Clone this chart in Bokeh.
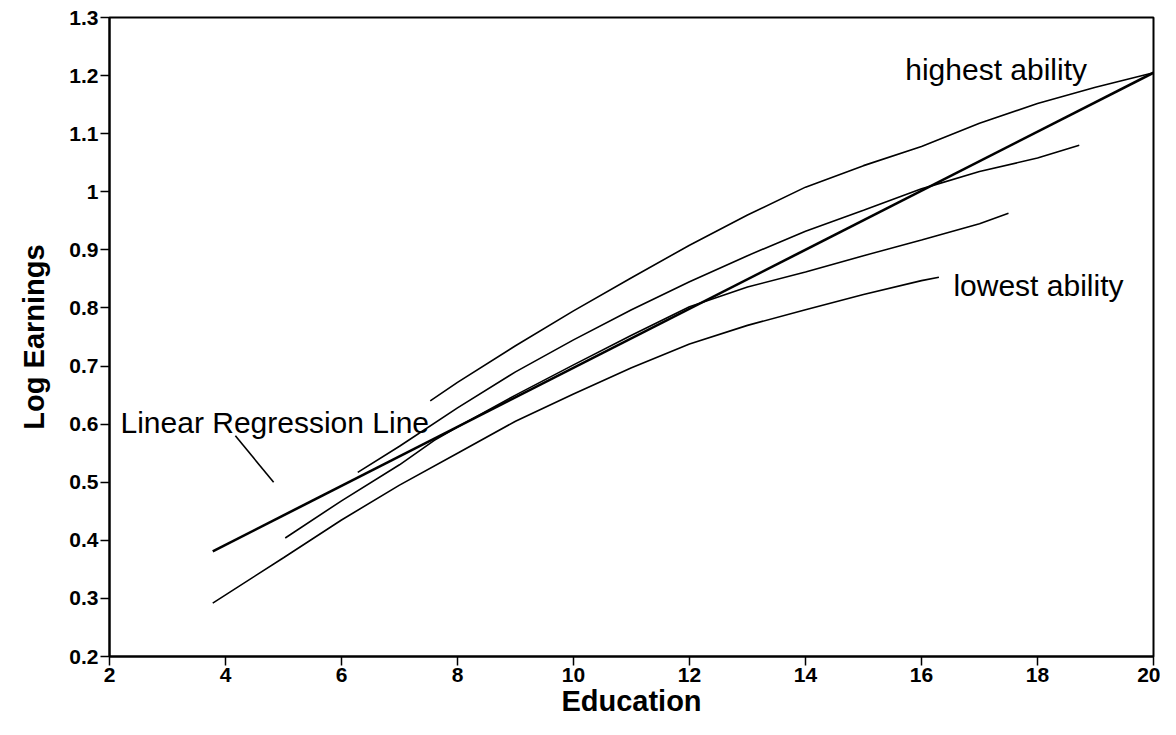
from bokeh.plotting import figure
from bokeh.models import Range1d, FixedTicker, Label
from bokeh.embed import file_html
from bokeh.resources import INLINE

# ---- data ----
educ_lowest = [3.78, 5, 6, 7, 8, 9, 10, 11, 12, 13, 14, 15, 16, 16.3]
earn_lowest = [0.292, 0.37, 0.435, 0.495, 0.55, 0.605, 0.652, 0.697, 0.738, 0.77, 0.797, 0.823, 0.847, 0.853]

educ_low2 = [5.03, 6, 7, 7.6, 8, 9, 10, 11, 12, 13, 14, 15, 16, 17, 17.5]
earn_low2 = [0.404, 0.468, 0.53, 0.572, 0.595, 0.65, 0.702, 0.753, 0.802, 0.836, 0.862, 0.89, 0.917, 0.945, 0.963]

educ_high2 = [6.28, 7, 8, 9, 10, 11, 12, 13, 14, 15, 16, 17, 18, 18.72]
earn_high2 = [0.517, 0.562, 0.628, 0.69, 0.745, 0.797, 0.845, 0.89, 0.932, 0.968, 1.005, 1.035, 1.058, 1.08]

educ_highest = [7.53, 8, 9, 10, 11, 12, 13, 14, 15, 16, 17, 18, 19, 20]
earn_highest = [0.64, 0.672, 0.735, 0.795, 0.852, 0.908, 0.96, 1.008, 1.045, 1.078, 1.118, 1.152, 1.18, 1.205]

educ_reg = [3.78, 20]
earn_reg = [0.381, 1.205]

x_ticks = [2, 4, 6, 8, 10, 12, 14, 16, 18, 20]
y_ticks = [0.2, 0.3, 0.4, 0.5, 0.6, 0.7, 0.8, 0.9, 1, 1.1, 1.2, 1.3]
y_tick_labels = ["0.2", "0.3", "0.4", "0.5", "0.6", "0.7", "0.8", "0.9", "1", "1.1", "1.2", "1.3"]

# annotation pointer (Linear Regression Line label)
pointer_x = [4.17, 4.83]
pointer_y = [0.58, 0.50]

p = figure(width=1160, height=719, output_backend="svg", toolbar_location=None,
           x_range=Range1d(2, 20), y_range=Range1d(0.2, 1.3),
           min_border_left=109, min_border_right=7, min_border_top=17, min_border_bottom=56,
           background_fill_color="white", border_fill_color="white")
p.grid.visible = False
p.outline_line_color = "black"
p.outline_line_width = 2

FONT = "Liberation Sans"

for ax in (p.xaxis[0], p.yaxis[0]):
    ax.axis_line_width = 2
    ax.axis_line_color = "black"
    ax.major_tick_in = 0
    ax.major_tick_out = 9
    ax.major_tick_line_width = 1.5
    ax.minor_tick_line_color = None
    ax.major_label_text_font = FONT
    ax.major_label_text_font_style = "bold"
    ax.major_label_text_font_size = "21px"
    ax.major_label_text_color = "black"
    ax.axis_label_text_font = FONT
    ax.axis_label_text_font_style = "bold"
    ax.axis_label_text_font_size = "29px"
    ax.axis_label_text_color = "black"

p.xaxis.ticker = FixedTicker(ticks=x_ticks)
p.yaxis.ticker = FixedTicker(ticks=y_ticks)
p.yaxis.major_label_overrides = {t: l for t, l in zip(y_ticks, y_tick_labels)}
p.xaxis.axis_label = "Education"
p.yaxis.axis_label = "Log Earnings"
p.xaxis.major_label_standoff = 2
p.yaxis.major_label_standoff = 2
p.xaxis.axis_label_standoff = 0
p.yaxis.axis_label_standoff = 16

curve_kw = dict(line_color="black", line_width=1.6)
p.line(educ_lowest, earn_lowest, **curve_kw)
p.line(educ_low2, earn_low2, **curve_kw)
p.line(educ_high2, earn_high2, **curve_kw)
p.line(educ_highest, earn_highest, **curve_kw)
p.line(educ_reg, earn_reg, line_color="black", line_width=2.6)
p.line(pointer_x, pointer_y, line_color="black", line_width=1.6)

lab_kw = dict(text_font=FONT, text_font_size="30px", text_color="black",
              text_baseline="alphabetic")
p.add_layout(Label(x=15.72, y=1.21, text="highest ability", **lab_kw))
p.add_layout(Label(x=16.55, y=0.839, text="lowest ability", **lab_kw))
p.add_layout(Label(x=2.19, y=0.602, text="Linear Regression Line", **lab_kw))

open("out.html", "w").write(file_html(p, INLINE))
